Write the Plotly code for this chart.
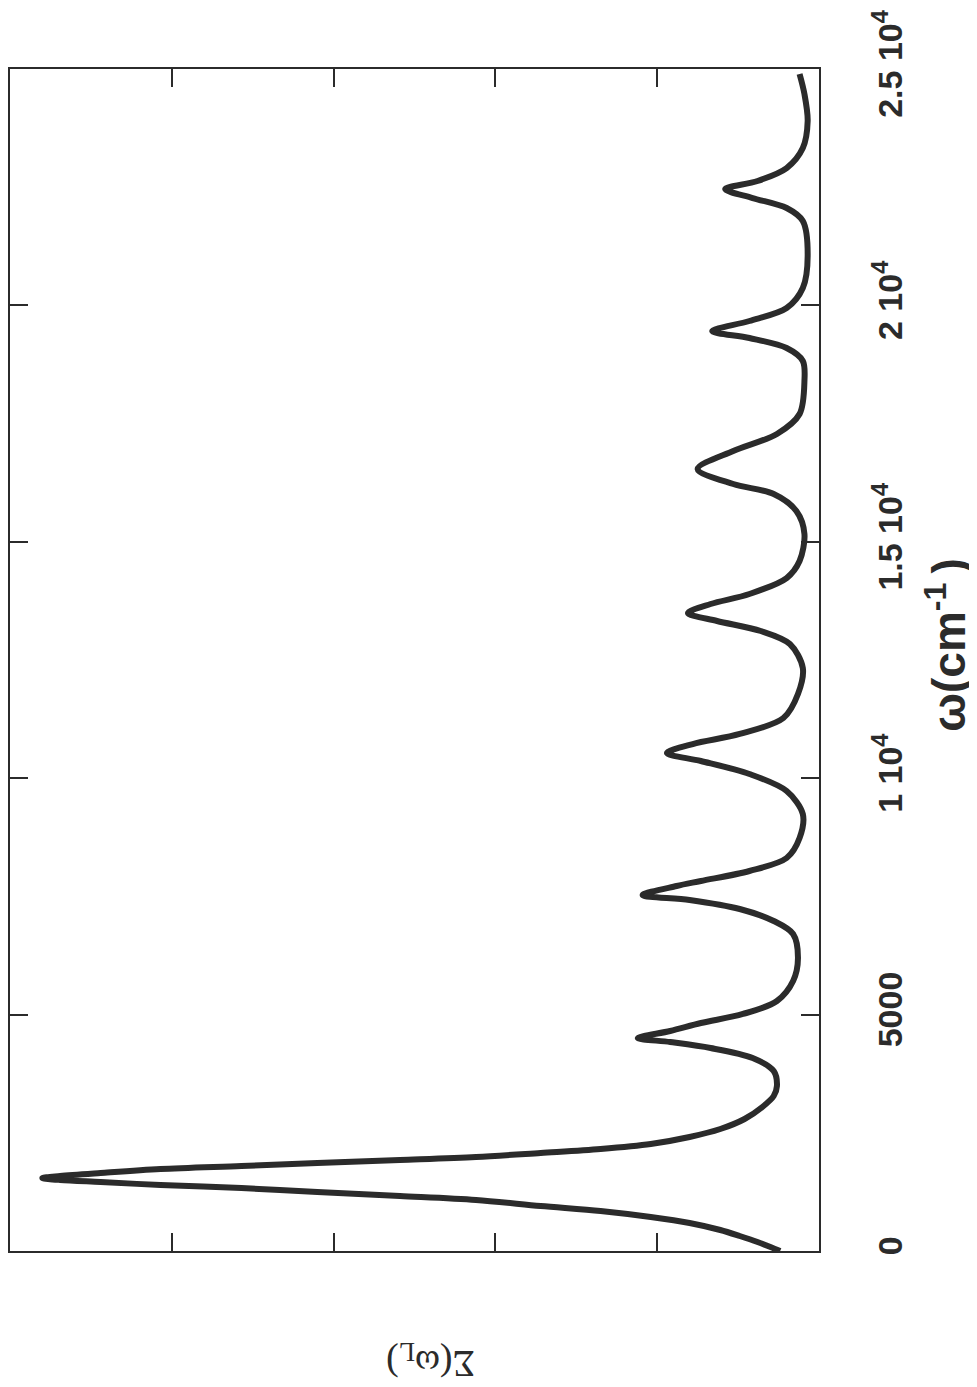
import plotly.graph_objects as go

# omega (cm^-1) along the curve
omega = [0, 85, 190, 317, 444, 592, 719, 846, 952, 1079, 1163, 1248, 1332, 1396,
         1459, 1502, 1544,
         1586, 1650, 1734, 1798, 1861, 1925, 1988, 2073, 2157, 2263, 2411, 2580,
         2792, 3046, 3278, 3490, 3807, 4082,
         4293, 4420, 4505, 4653, 4822, 5013, 5288, 5711, 6197, 6705, 6980, 7233,
         7424, 7529, 7720, 7826, 8037, 8312, 8735, 9243, 9729, 10089, 10364, 10533,
         10723, 10935, 11273, 11781, 12330, 12838, 13113, 13325, 13494, 13684, 13896,
         14234, 14594, 15165, 15651, 16011, 16222, 16539, 16920, 17280, 17703, 18401,
         18824, 19098, 19310, 19458, 19670, 19944, 20367, 21044, 21785, 22060, 22271,
         22461, 22631, 22905, 23328, 23900, 24471, 24894]
# Sigma(omega_L), arbitrary units
sigma = [0.24, 0.30, 0.38, 0.49, 0.61, 0.80, 1.04, 1.35, 1.72, 2.12, 2.59, 3.10, 3.57, 4.07,
         4.44, 4.69, 4.80,
         4.69, 4.44, 4.07, 3.57, 3.10, 2.59, 2.12, 1.72, 1.35, 1.04, 0.80, 0.61,
         0.46, 0.35, 0.28, 0.26, 0.28, 0.41,
         0.67, 0.92, 1.12, 0.92, 0.73, 0.47, 0.26, 0.16, 0.13, 0.16, 0.28, 0.49,
         0.80, 1.09, 0.88, 0.73, 0.43, 0.20, 0.12, 0.10, 0.20, 0.43, 0.73, 0.94,
         0.78, 0.49, 0.22, 0.13, 0.10, 0.18, 0.36, 0.63, 0.81, 0.67, 0.43,
         0.20, 0.12, 0.09, 0.14, 0.28, 0.53, 0.75, 0.53, 0.26, 0.12, 0.09,
         0.10, 0.20, 0.43, 0.66, 0.43, 0.20, 0.10, 0.07, 0.10, 0.20, 0.41,
         0.58, 0.38, 0.20, 0.10, 0.07, 0.09, 0.12]

omega_ticks = [0, 5000, 10000, 15000, 20000, 25000]
omega_ticktext = ["0", "5000", "1 10<sup>4</sup>", "1.5 10<sup>4</sup>",
                  "2 10<sup>4</sup>", "2.5 10<sup>4</sup>"]
sigma_ticks = [1, 2, 3, 4]

INK = "#2b2b2b"

fig = go.Figure()
fig.add_trace(go.Scatter(
    x=sigma, y=omega, mode="lines",
    line=dict(color=INK, width=6, shape="spline", smoothing=0.9),
    showlegend=False, hoverinfo="skip"))

# page body has an 8px default margin, so the figure is sized to fit inside it
fig.update_layout(
    width=969, height=1379,
    margin=dict(l=2, r=158, t=61, b=136, autoexpand=False),
    paper_bgcolor="white", plot_bgcolor="white",
    xaxis=dict(range=[5, 0], showgrid=False, zeroline=False, automargin=False,
               showline=True, linecolor=INK, linewidth=2, mirror="allticks",
               ticks="inside", tickvals=sigma_ticks, ticklen=18, tickwidth=2,
               tickcolor=INK, showticklabels=False),
    yaxis=dict(range=[0, 25000], side="right", showgrid=False, zeroline=False,
               automargin=False,
               showline=True, linecolor=INK, linewidth=2, mirror="allticks",
               ticks="inside", tickvals=omega_ticks, ticktext=omega_ticktext,
               ticklen=18, tickwidth=2, tickcolor=INK, tickangle=-90,
               ticklabelstandoff=40,
               tickfont=dict(family="Liberation Sans", size=34, color=INK,
                             weight="bold")),
)

fig.add_annotation(
    xref="paper", yref="paper", x=1.156, y=0.513, xanchor="center", yanchor="middle",
    text="ω(cm<sup>-1 </sup>)", showarrow=False, textangle=-90,
    font=dict(family="Liberation Sans", size=46, color=INK, weight="bold"))

fig.add_annotation(
    xref="paper", yref="paper", x=0.519, y=-0.093, xanchor="center", yanchor="middle",
    text="Σ(ω<sub>L</sub>)", showarrow=False, textangle=180,
    font=dict(family="Liberation Serif", size=38, color=INK))

fig.write_html("out.html")
